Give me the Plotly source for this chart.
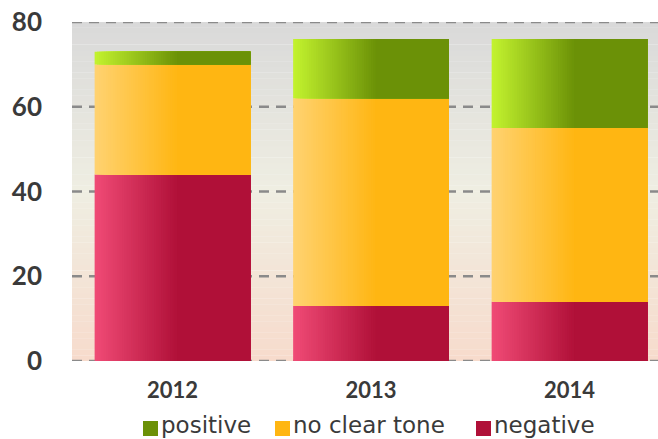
import numpy as np
import plotly.graph_objects as go

years = ["2012", "2013", "2014"]
negative = [44, 13, 14]
no_clear_tone = [26, 49, 41]
positive = [3, 14, 21]
y_ticks = [0, 20, 40, 60, 80]

# (name, values, light colour at the left edge, dark colour)
SERIES = [
    ("negative", negative, (239, 74, 117), (176, 16, 56)),
    ("no clear tone", no_clear_tone, (255, 210, 112), (255, 182, 18)),
    ("positive", positive, (194, 242, 46), (107, 145, 7)),
]

BAR_W = 0.784
GRAD_FRAC = 0.53   # share of the bar width taken by the gradient
N_SLICES = 36


def rgb(c):
    return "rgb(%d,%d,%d)" % tuple(int(round(v)) for v in c)


def mix(a, b, t):
    return [a[i] + (b[i] - a[i]) * t for i in range(3)]


fig = go.Figure()

base = np.zeros(len(years))
for name, vals, light, dark in SERIES:
    vals = np.array(vals, dtype=float)
    # each slice starts a bit further right and runs to the bar's right edge,
    # later slices cover earlier ones -> a seamless horizontal gradient
    for i in range(N_SLICES + 1):
        t = i / N_SLICES
        start = -BAR_W / 2 + BAR_W * GRAD_FRAC * t
        fig.add_trace(go.Bar(
            x=years, y=vals, base=base,
            offset=start, width=BAR_W / 2 - start,
            marker=dict(color=rgb(mix(light, dark, t)), line=dict(width=0)),
            showlegend=False, hoverinfo="skip",
        ))
    base = base + vals

# vertical background gradient (grey top -> off-white -> peach bottom)
stops = [(0.0, (247, 219, 204)), (0.5, (239, 238, 226)), (1.0, (217, 217, 217))]
n_bands = 60
shapes = []
for k in range(n_bands):
    y0 = 80 * k / n_bands
    y1 = 80 * (k + 1) / n_bands
    f = (k + 0.5) / n_bands
    if f <= 0.5:
        col = mix(stops[0][1], stops[1][1], f / 0.5)
    else:
        col = mix(stops[1][1], stops[2][1], (f - 0.5) / 0.5)
    shapes.append(dict(type="rect", xref="paper", yref="y", x0=0, x1=1,
                       y0=y0, y1=y1 + 0.05, fillcolor=rgb(col),
                       line=dict(width=0), layer="below"))

# dashed gridlines (drawn as shapes so the 0 and 80 lines show too)
for v in y_ticks:
    shapes.append(dict(type="line", xref="paper", yref="y", x0=0, x1=1,
                       y0=v, y1=v, layer="below",
                       line=dict(color="#8a8a8a", width=2.5, dash="10px,7px")))

# legend: coloured squares + labels
legend_items = [("positive", "#6b9107", 143), ("no clear tone", "#ffb612", 275),
                ("negative", "#b01038", 476)]
PLOT_L, PLOT_W, PLOT_B, PLOT_H = 72, 586, 361, 339
annotations = []
for label, col, px in legend_items:
    shapes.append(dict(type="rect", xref="paper", yref="paper",
                       x0=(px - PLOT_L) / PLOT_W, x1=(px + 15 - PLOT_L) / PLOT_W,
                       y0=(PLOT_B - 436) / PLOT_H, y1=(PLOT_B - 421) / PLOT_H,
                       fillcolor=col, line=dict(width=0)))
    annotations.append(dict(xref="paper", yref="paper",
                            x=(px + 16 - PLOT_L) / PLOT_W, y=(PLOT_B - 425) / PLOT_H,
                            xanchor="left", yanchor="middle", showarrow=False,
                            text=label,
                            font=dict(family="DejaVu Sans", size=23, color="#3a3a3a")))

fig.update_layout(
    width=658, height=439,
    margin=dict(l=72, r=0, t=22, b=78, autoexpand=False),
    barmode="overlay",
    paper_bgcolor="white",
    plot_bgcolor="white",
    shapes=shapes,
    annotations=annotations,
    showlegend=False,
)

fig.update_xaxes(
    type="category", range=[-0.506, 2.446], automargin=False,
    showgrid=False, zeroline=False, showline=False, ticks="",
    ticklabelstandoff=14,
    tickfont=dict(family="Lato", size=22, color="#3a3a3a", weight="bold"),
)
fig.update_yaxes(
    range=[0, 80], tickvals=y_ticks, automargin=False,
    showgrid=False, zeroline=False, showline=False, ticks="",
    ticklabelstandoff=29,
    tickfont=dict(family="Lato", size=26, color="#3a3a3a", weight="bold"),
)

# drop the browser's default 8px body margin so the figure fills the window
fig.write_html("out.html", config={"displayModeBar": False},
               post_script="document.body.style.margin='0';document.body.style.overflow='hidden';")
